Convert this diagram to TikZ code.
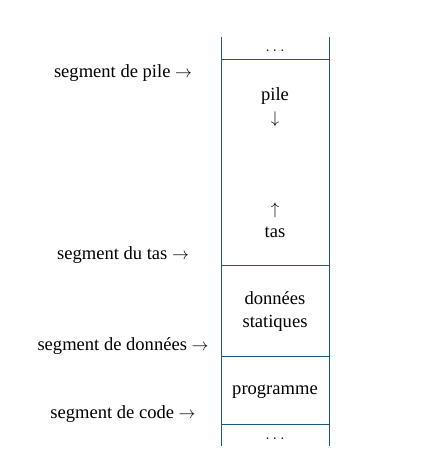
\documentclass[tikz,border=0pt]{standalone}
\usepackage{fontspec}
\setmainfont{Liberation Serif}
\usetikzlibrary{positioning}
\definecolor{memblue}{RGB}{25,90,125}
\tikzstyle{wall}=[draw=memblue, line width=0.6pt]
\tikzstyle{zone}=[text centered, text width=2.6cm, font=\fontsize{13.2}{16.4}\selectfont]
\tikzstyle{seglabel}=[text centered, font=\fontsize{13.2}{16.4}\selectfont]

\begin{document}
\begin{tikzpicture}
    \useasboundingbox (0,0) rectangle (10.5,11.575);

    \coordinate (HautG) at (5.525,10.65);
    \coordinate (HautD) at (8.225,10.65);
    \coordinate (BasG) at (5.525,0.425);
    \coordinate (BasD) at (8.225,0.425);

    \draw[wall] (HautG) -- (BasG);
    \draw[wall] (HautD) -- (BasD);

    \foreach \y/\n in {10.1/pile, 4.95/tas, 2.675/donnees, 0.975/code}
    {
        \coordinate (sep\n) at (6.875,\y);
        \draw[wall] (sep\n -| HautG) -- (sep\n -| HautD);
    }

    \node (haut) [zone] at (6.875,10.3) {$\ldots$};
    \node (pile) [zone] at (6.875,8.89) {pile\\$\downarrow$};
    \node (tas) [zone] at (6.875,6.065) {$\uparrow$\\tas};
    \node (donnees) [zone] at (6.875,3.79) {données\\statiques};
    \node (code) [zone] at (6.875,1.77) {programme};
    \node (bas) [zone] at (6.875,0.6) {$\ldots$};

    \node (Lpile) [seglabel] at (3.075,9.74) {segment de pile $\rightarrow$};
    \node (Ltas) [seglabel] at (3.075,5.21) {segment du tas $\rightarrow$};
    \node (Ldonnees) [seglabel] at (3.075,2.935) {segment de données $\rightarrow$};
    \node (Lcode) [seglabel] at (3.075,1.235) {segment de code $\rightarrow$};

\end{tikzpicture}
\end{document}
